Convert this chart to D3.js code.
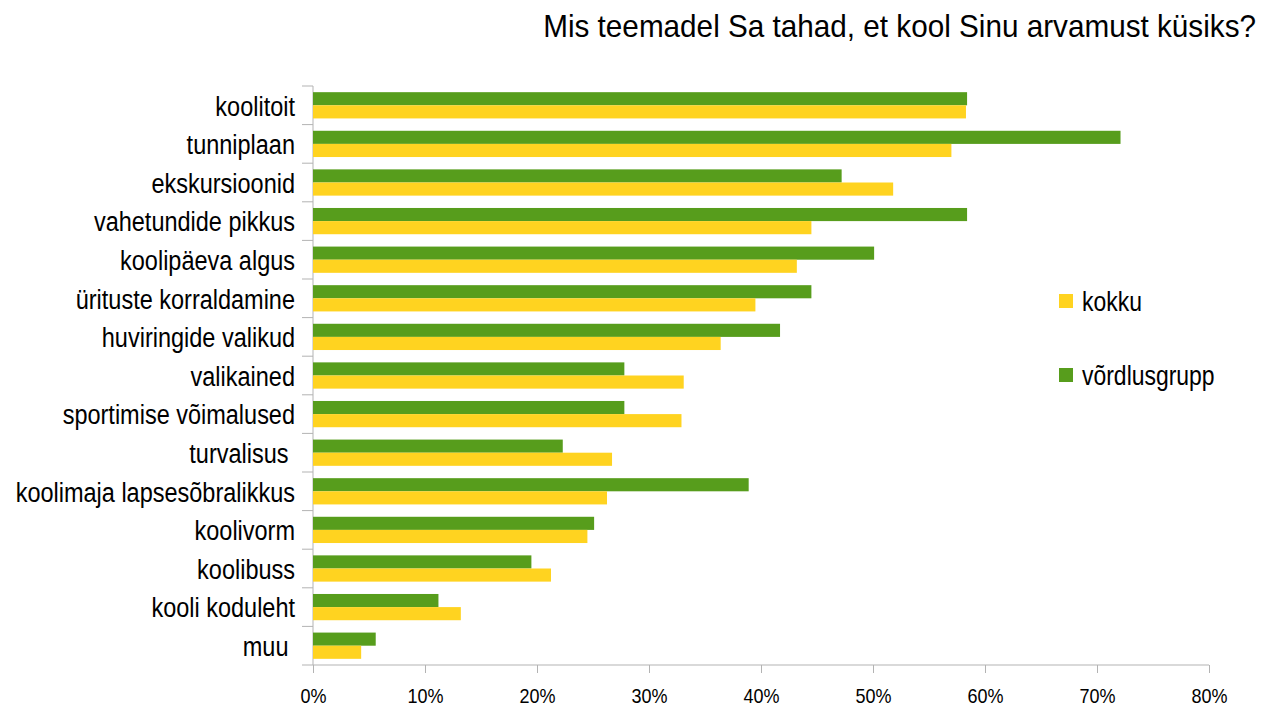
<!DOCTYPE html>
<html>
<head>
<meta charset="utf-8">
<script src="https://cdn.jsdelivr.net/npm/d3@7"></script>
<style>
  body { margin: 0; background: #fff; }
  svg { font-family: "Liberation Sans", Arial, sans-serif; }
</style>
</head>
<body>
<div class="chart"></div>
<script>
// chart parameters
const width = 1263;
const height = 709;
const margin = { top: 86, right: 54, bottom: 44, left: 313 };

const title = "Mis teemadel Sa tahad, et kool Sinu arvamust küsiks?";

const categories = [
  "koolitoit", "tunniplaan", "ekskursioonid", "vahetundide pikkus",
  "koolipäeva algus", "ürituste korraldamine", "huviringide valikud",
  "valikained", "sportimise võimalused", "turvalisus ",
  "koolimaja lapsesõbralikkus", "koolivorm", "koolibuss",
  "kooli koduleht", "muu "
];

// võrdlusgrupp (green) and kokku (yellow), in %
const vordlusgrupp = [58.4, 72.1, 47.2, 58.4, 50.1, 44.5, 41.7, 27.8, 27.8, 22.3, 38.9, 25.1, 19.5, 11.2, 5.6];
const kokku = [58.3, 57.0, 51.8, 44.5, 43.2, 39.5, 36.4, 33.1, 32.9, 26.7, 26.25, 24.5, 21.25, 13.2, 4.3];

const xTicks = [0, 10, 20, 30, 40, 50, 60, 70, 80];

const seriesNames = ["kokku", "võrdlusgrupp"];
const seriesColors = { "kokku": "#ffd320", "võrdlusgrupp": "#579d1c" };

const rows = categories.map((c, i) => ({ cat: c, "võrdlusgrupp": vordlusgrupp[i], "kokku": kokku[i] }));

// the text in the picture is a narrow face: squash normal glyphs sideways
const squash = 0.87;

const svg = d3.select('.chart')
  .append('svg')
  .attr('width', width)
  .attr('height', height);

const x = d3.scaleLinear()
  .domain([0, 80])
  .range([margin.left, width - margin.right]);

const y = d3.scaleBand()
  .domain(categories)
  .range([margin.top, height - margin.bottom])
  .paddingInner(0.32)
  .paddingOuter(0.16);

// green on top, yellow below
const yInner = d3.scaleBand()
  .domain(["võrdlusgrupp", "kokku"])
  .range([0, y.bandwidth()]);

const step = y.step();

// y axis: line plus ticks on band boundaries
const yAxis = svg.append('g');
yAxis.append('line')
  .attr('x1', margin.left).attr('x2', margin.left)
  .attr('y1', margin.top).attr('y2', height - margin.bottom)
  .attr('stroke', '#b3b3b3');
yAxis.selectAll('line.tick')
  .data(d3.range(categories.length + 1))
  .join('line')
    .attr('class', 'tick')
    .attr('x1', margin.left - 11).attr('x2', margin.left)
    .attr('y1', i => margin.top + i * step)
    .attr('y2', i => margin.top + i * step)
    .attr('stroke', '#b3b3b3');

// bars
const groups = svg.append('g')
  .selectAll('g')
  .data(rows)
  .join('g')
    .attr('transform', d => `translate(0, ${y(d.cat)})`);

groups.selectAll('rect')
  .data(d => ["võrdlusgrupp", "kokku"].map(k => ({ key: k, value: d[k] })))
  .join('rect')
    .attr('x', x(0))
    .attr('y', d => yInner(d.key))
    .attr('width', d => x(d.value) - x(0))
    .attr('height', yInner.bandwidth())
    .attr('fill', d => seriesColors[d.key]);

// category labels
svg.append('g')
  .selectAll('text')
  .data(categories)
  .join('text')
    .attr('transform', d => `translate(295, ${y(d) + y.bandwidth() / 2}) scale(${squash}, 1)`)
    .attr('dy', '0.38em')
    .attr('text-anchor', 'end')
    .style('white-space', 'pre')
    .attr('font-size', 27)
    .attr('fill', '#000')
    .text(d => d);

// x axis
svg.append('g')
  .attr('transform', `translate(0, ${height - margin.bottom})`)
  .call(d3.axisBottom(x).tickValues(xTicks).tickFormat(d => d + '%').tickSize(8).tickPadding(16))
  .call(g => g.select('.domain').attr('stroke', '#b3b3b3').attr('d', `M${x(0)},0H${x(80)}`))
  .call(g => g.selectAll('.tick line').attr('stroke', '#b3b3b3'))
  .call(g => g.selectAll('.tick text')
    .attr('font-size', 20)
    .attr('transform', 'scale(0.9, 1)')
    .attr('fill', '#000')
    .attr('font-family', '"Liberation Sans", Arial, sans-serif'));

// title, squashed to the width it has in the picture
const titleText = svg.append('text')
  .attr('text-anchor', 'end')
  .attr('font-size', 32)
  .attr('fill', '#000')
  .text(title);
const titleScale = 713 / titleText.node().getComputedTextLength();
titleText.attr('transform', `translate(1256, 37) scale(${titleScale}, 1)`);

// legend
const legend = svg.append('g')
  .selectAll('g')
  .data(seriesNames)
  .join('g')
    .attr('transform', (d, i) => `translate(1059, ${294 + i * 74})`);
legend.append('rect')
  .attr('width', 14).attr('height', 14)
  .attr('fill', d => seriesColors[d]);
legend.append('text')
  .attr('transform', `translate(23, 7) scale(0.85, 1)`)
  .attr('dy', '0.38em')
  .attr('font-size', 27)
  .attr('fill', '#000')
  .text(d => d);
</script>
</body>
</html>
